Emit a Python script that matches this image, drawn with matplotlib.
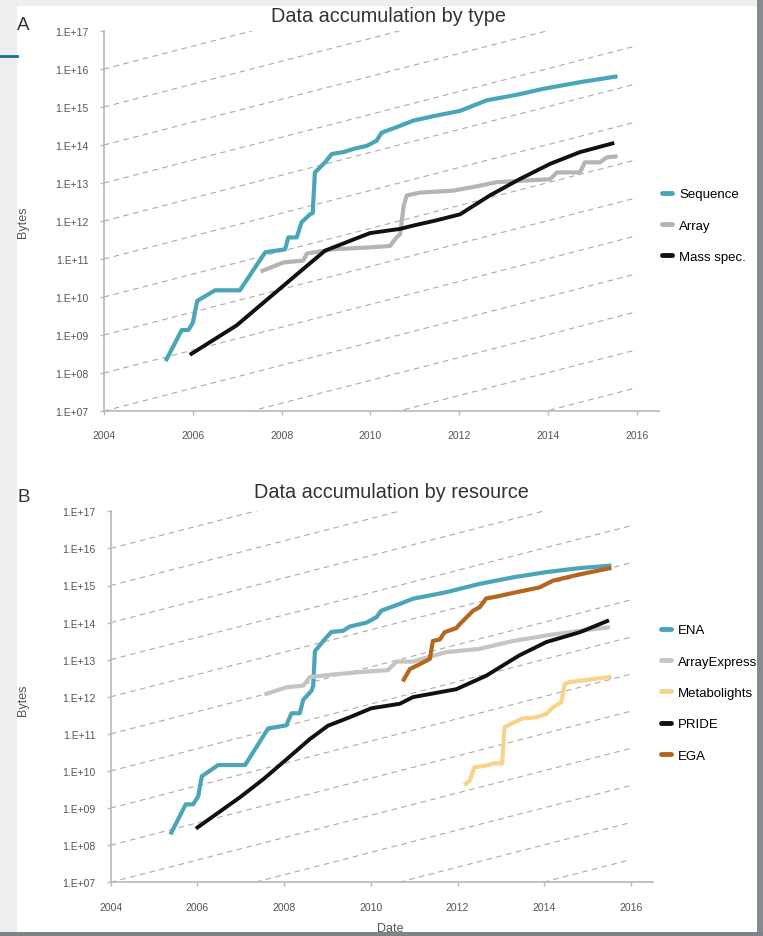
import matplotlib
matplotlib.use("Agg")
import matplotlib.pyplot as plt
from matplotlib.patches import Rectangle
from matplotlib.lines import Line2D
from matplotlib.ticker import NullLocator

plt.rcParams['font.family'] = ['Liberation Sans', 'DejaVu Sans']

# ---- panel A: data accumulation by type (bytes) ----
seq_years = [2005.41, 2005.75, 2005.9, 2006.0, 2006.1, 2006.5, 2007.06, 2007.63, 2008.08,
             2008.15, 2008.34, 2008.45, 2008.64, 2008.7, 2008.75, 2008.98, 2009.13, 2009.39,
             2009.62, 2009.92, 2010.14, 2010.25, 2010.67, 2010.97, 2011.5, 2012.02, 2012.62,
             2013.3, 2013.89, 2014.72, 2015.52]
seq_bytes = [2.3e8, 1.35e9, 1.35e9, 2.1e9, 7.9e9, 1.5e10, 1.5e10, 1.5e11, 1.8e11,
             3.7e11, 3.7e11, 9.3e11, 1.5e12, 1.6e12, 1.9e13, 3.5e13, 5.8e13, 6.5e13,
             7.9e13, 9.5e13, 1.3e14, 2.1e14, 3.2e14, 4.4e14, 6.0e14, 7.9e14, 1.5e15,
             2.1e15, 3.0e15, 4.5e15, 6.3e15]

array_years = [2007.57, 2008.04, 2008.49, 2008.57, 2009.16, 2009.92, 2010.44, 2010.59, 2010.67,
               2010.75, 2010.82, 2011.12, 2011.87, 2012.47, 2012.84, 2014.05, 2014.2, 2014.72,
               2014.83, 2015.17, 2015.32, 2015.52]
array_bytes = [4.9e10, 8.1e10, 9.1e10, 1.4e11, 1.8e11, 2.0e11, 2.2e11, 3.7e11, 4.5e11,
               2.5e12, 4.7e12, 5.6e12, 6.3e12, 8.5e12, 1.05e13, 1.26e13, 1.9e13, 1.9e13,
               3.5e13, 3.5e13, 4.7e13, 5.0e13]

ms_years = [2005.97, 2006.99, 2007.51, 2008.0, 2008.57, 2008.98, 2009.54, 2009.99, 2010.67,
            2010.97, 2011.5, 2012.02, 2012.69, 2013.36, 2014.05, 2014.72, 2015.45]
ms_bytes = [3.2e8, 1.8e9, 5.9e9, 1.8e10, 6.6e10, 1.66e11, 3.0e11, 4.8e11, 6.2e11,
            7.6e11, 1.05e12, 1.5e12, 4.7e12, 1.26e13, 3.2e13, 6.5e13, 1.1e14]

# ---- panel B: data accumulation by resource (bytes) ----
ena_years = [2005.4, 2005.73, 2005.9, 2006.02, 2006.1, 2006.48, 2007.1, 2007.63, 2008.05,
             2008.17, 2008.36, 2008.44, 2008.63, 2008.67, 2008.71, 2008.94, 2009.09, 2009.36,
             2009.51, 2009.9, 2010.13, 2010.24, 2010.67, 2010.97, 2011.74, 2012.5, 2013.28,
             2014.05, 2014.82, 2015.5]
ena_bytes = [2.2e8, 1.26e9, 1.26e9, 2.1e9, 7.2e9, 1.45e10, 1.45e10, 1.4e11, 1.7e11,
             3.6e11, 3.6e11, 8.3e11, 1.45e12, 2.0e12, 1.7e13, 3.6e13, 5.6e13, 6.0e13,
             7.8e13, 1.0e14, 1.4e14, 2.1e14, 3.2e14, 4.4e14, 6.6e14, 1.1e15, 1.66e15,
             2.3e15, 2.95e15, 3.4e15]

ae_years = [2007.59, 2008.05, 2008.44, 2008.59, 2009.13, 2009.9, 2010.39, 2010.59, 2010.67,
            2010.97, 2011.74, 2012.5, 2013.28, 2014.05, 2014.82, 2015.47]
ae_bytes = [1.2e12, 1.8e12, 2.0e12, 3.4e12, 4.0e12, 4.8e12, 5.2e12, 8.9e12, 8.9e12,
            8.9e12, 1.6e13, 1.95e13, 3.2e13, 4.5e13, 6.0e13, 7.4e13]

mtbl_years = [2012.19, 2012.28, 2012.39, 2012.66, 2012.82, 2013.03, 2013.08, 2013.28, 2013.5,
              2013.81, 2014.05, 2014.2, 2014.39, 2014.47, 2014.58, 2015.5]
mtbl_bytes = [4.5e9, 5.5e9, 1.26e10, 1.4e10, 1.6e10, 1.6e10, 1.5e11, 2.0e11, 2.6e11,
              2.8e11, 3.5e11, 5.2e11, 7.1e11, 2.2e12, 2.5e12, 3.4e12]

pride_years = [2006.0, 2006.98, 2007.52, 2008.02, 2008.59, 2009.01, 2009.51, 2010.01, 2010.67,
               2010.97, 2011.97, 2012.66, 2013.42, 2014.05, 2014.82, 2015.45]
pride_bytes = [3.0e8, 1.95e9, 6.0e9, 1.9e10, 7.2e10, 1.66e11, 2.8e11, 4.9e11, 6.5e11,
               9.8e11, 1.6e12, 3.7e12, 1.3e13, 3.0e13, 5.5e13, 1.1e14]

ega_years = [2010.76, 2010.9, 2011.13, 2011.36, 2011.43, 2011.59, 2011.7, 2011.97, 2012.05,
             2012.36, 2012.51, 2012.66, 2012.89, 2013.28, 2013.89, 2014.2, 2014.82, 2015.5]
ega_bytes = [2.9e12, 5.6e12, 7.6e12, 1.05e13, 3.2e13, 3.5e13, 5.5e13, 7.1e13, 9.1e13,
             2.1e14, 2.6e14, 4.5e14, 5.0e14, 6.3e14, 8.9e14, 1.35e15, 2.0e15, 2.9e15]

# axis ticks
year_ticks = [2004, 2006, 2008, 2010, 2012, 2014, 2016]
decades = list(range(7, 18))
ytick_labels = ["1.E+%02d" % k for k in decades]

# doubling-per-year guide lines: start value at 2004 (one per decade) over 2004-2016
guide_start_decades = list(range(4, 17))
guide_span = [2004, 2016]

TEAL = '#4aa5b8'
AXIS_GREY = '#b8b8b8'
TEXT_GREY = '#555555'


def style_axes(ax):
    ax.set_yscale('log')
    ax.set_xlim(2004, 2016.5)
    ax.set_ylim(1e7, 1e17)
    ax.set_yticks([10.0 ** k for k in decades])
    ax.set_yticklabels(ytick_labels)
    ax.yaxis.set_minor_locator(NullLocator())
    ax.set_xticks(year_ticks)
    ax.set_xticklabels([str(y) for y in year_ticks])
    for side in ('top', 'right'):
        ax.spines[side].set_visible(False)
    for side in ('left', 'bottom'):
        ax.spines[side].set_color(AXIS_GREY)
        ax.spines[side].set_linewidth(1.2)
    ax.tick_params(colors=AXIS_GREY, labelcolor=TEXT_GREY, labelsize=7.5, length=3, width=1)
    ax.tick_params(axis='x', pad=11)
    ax.tick_params(axis='y', pad=8)
    # guide lines
    for k in guide_start_decades:
        y0 = 10.0 ** k
        ys = [y0 * 2.0 ** (x - guide_span[0]) for x in guide_span]
        ax.plot(guide_span, ys, color='#ababab', lw=0.8, ls=(0, (5, 4)), zorder=1)
    ax.set_facecolor('none')


fig = plt.figure(figsize=(7.63, 9.37), dpi=100)
fig.patch.set_facecolor('#eceef0')
W, H = 763.0, 937.0

# white card, frame strips, accent line
fig.add_artist(Rectangle((17 / W, 1 - 933 / H), (757 - 17) / W, (933 - 7) / H,
                         transform=fig.transFigure, facecolor='white', edgecolor='none', zorder=-5))
fig.add_artist(Line2D([0, 17 / W], [1 - 57 / H, 1 - 57 / H], transform=fig.transFigure,
                      color='#1f6d8c', lw=2))

axA = fig.add_axes([104 / W, 1 - 412 / H, (659 - 104) / W, (412 - 32) / H])
axB = fig.add_axes([110.7 / W, 1 - 883.3 / H, (652.7 - 110.7) / W, (883.3 - 512.3) / H])
style_axes(axA)
style_axes(axB)

lw = 3.0
axA.plot(seq_years, seq_bytes, color=TEAL, lw=lw, label='Sequence', zorder=3)
axA.plot(array_years, array_bytes, color='#b4b4b4', lw=lw, label='Array', zorder=3)
axA.plot(ms_years, ms_bytes, color='#111111', lw=2.8, label='Mass spec.', zorder=4)

axB.plot(ena_years, ena_bytes, color=TEAL, lw=lw, label='ENA', zorder=3)
axB.plot(ae_years, ae_bytes, color='#c4c4c4', lw=lw, label='ArrayExpress', zorder=3)
axB.plot(mtbl_years, mtbl_bytes, color='#f8d48a', lw=lw, label='Metabolights', zorder=3)
axB.plot(pride_years, pride_bytes, color='#111111', lw=2.8, label='PRIDE', zorder=4)
axB.plot(ega_years, ega_bytes, color='#b5661e', lw=lw, label='EGA', zorder=3)

leg_kw = dict(loc='upper left', bbox_transform=fig.transFigure, frameon=False,
              handlelength=0.75, handletextpad=0.55, labelspacing=1.45, fontsize=9.5,
              borderpad=0, borderaxespad=0)
legA = axA.legend(bbox_to_anchor=(662 / W, 1 - 189 / H), **leg_kw)
legB = axB.legend(bbox_to_anchor=(661 / W, 1 - 625 / H), **leg_kw)
for leg in (legA, legB):
    for h in leg.get_lines():
        h.set_solid_capstyle('round')
        h.set_linewidth(3.5)

# titles, panel letters, axis labels
fig.text(388 / W, 1 - 16 / H, 'Data accumulation by type', ha='center', va='center',
         fontsize=14.3, color='#333333')
fig.text(391 / W, 1 - 493 / H, 'Data accumulation by resource', ha='center', va='center',
         fontsize=14.3, color='#333333')
fig.text(23.5 / W, 1 - 25 / H, 'A', ha='center', va='center', fontsize=13.5, color='#333333')
fig.text(23.5 / W, 1 - 497.5 / H, 'B', ha='center', va='center', fontsize=13.5, color='#333333')
fig.text(23 / W, 1 - 222 / H, 'Bytes', ha='center', va='center', rotation=90,
         fontsize=9, color=TEXT_GREY)
fig.text(23 / W, 1 - 700 / H, 'Bytes', ha='center', va='center', rotation=90,
         fontsize=9, color=TEXT_GREY)
fig.text(390 / W, 1 - 929 / H, 'Date', ha='center', va='center', fontsize=9, color=TEXT_GREY)

# dark frame on the right and bottom (drawn over everything)
fig.add_artist(Rectangle((757 / W, 0), 6 / W, 1, transform=fig.transFigure,
                         facecolor='#858b90', edgecolor='none', zorder=10))
fig.add_artist(Rectangle((0, 0), 1, 4 / H, transform=fig.transFigure,
                         facecolor='#7d8388', edgecolor='none', zorder=10))

fig.savefig('out.png', dpi=100, facecolor=fig.get_facecolor())
